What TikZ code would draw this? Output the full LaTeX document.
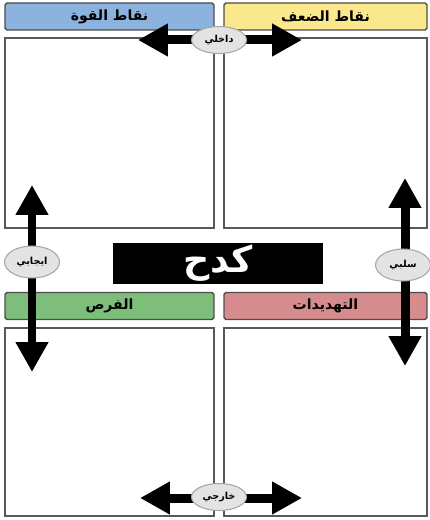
\documentclass[tikz,border=0pt]{standalone}
\usepackage{fontspec}
\newfontfamily\arabicfont[Script=Arabic]{DejaVu Sans}
\TeXXeTstate=1
\usetikzlibrary{arrows.meta,shapes.geometric}

\definecolor{strengthblue}{RGB}{140,178,222}
\definecolor{weakyellow}{RGB}{252,232,140}
\definecolor{oppgreen}{RGB}{124,190,122}
\definecolor{threatred}{RGB}{214,140,140}

\tikzset{
    header/.style={draw=gray!60!black, line width=0.8pt, rounded corners=1pt,
        minimum height=0.54cm, inner sep=0pt, font=\arabicfont\bfseries\footnotesize},
    panel/.style={draw=gray!70!black, line width=0.8pt, fill=white},
    bigarrow/.style={line width=0.18cm, {Triangle[width=0.62cm,length=0.6cm]}-{Triangle[width=0.62cm,length=0.6cm]}},
    tag/.style={ellipse, draw=gray!70, line width=0.6pt, fill=gray!22,
        minimum width=1.1cm, minimum height=0.54cm, inner sep=0pt,
        font=\arabicfont\bfseries\fontsize{5.5}{6}\selectfont}
}

\begin{document}
\begin{tikzpicture}[x=0.02cm,y=-0.02cm]
        \useasboundingbox (0,0) rectangle (429,520);

        % quadrants
        \foreach \xa/\xb in {5/214,224/427} {
        \foreach \ya/\yb in {38/228,328/516} {
                \draw [panel] (\xa,\ya) rectangle (\xb,\yb);
        }
        }

        % headers
        \node [header, fill=strengthblue, minimum width=4.18cm] (strengths) at (109.5,16.5) {\beginR نقاط القوة\endR};
        \node [header, fill=weakyellow, minimum width=4.06cm] (weaknesses) at (325.5,16.5) {\beginR نقاط الضعف\endR};
        \node [header, fill=oppgreen, minimum width=4.18cm] (opportunities) at (109.5,306) {\beginR الفرص\endR};
        \node [header, fill=threatred, minimum width=4.06cm] (threats) at (325.5,306) {\beginR التهديدات\endR};

        % title
        \node [fill=black, text=white, minimum width=4.2cm, minimum height=0.82cm, inner sep=0pt,
            font=\arabicfont\bfseries\huge] (title) at (218,263.5) {\beginR كدح\endR};

        % arrow ends
        \coordinate (inL) at (138,40);
        \coordinate (inR) at (302,40);
        \coordinate (exL) at (140,498);
        \coordinate (exR) at (302,498);
        \coordinate (posT) at (32,185);
        \coordinate (posB) at (32,372);
        \coordinate (negT) at (405,178);
        \coordinate (negB) at (405,366);

        \draw [bigarrow] (inL) -- (inR);
        \draw [bigarrow] (exL) -- (exR);
        \draw [bigarrow] (posT) -- (posB);
        \draw [bigarrow] (negT) -- (negB);

        \node [tag] (internal) at (219,40) {\beginR داخلي\endR};
        \node [tag] (external) at (219,497) {\beginR خارجي\endR};
        \node [tag, minimum height=0.64cm] (positive) at (32,262) {\beginR ايجابي\endR};
        \node [tag, minimum height=0.64cm] (negative) at (403,265) {\beginR سلبي\endR};

\end{tikzpicture}
\end{document}
